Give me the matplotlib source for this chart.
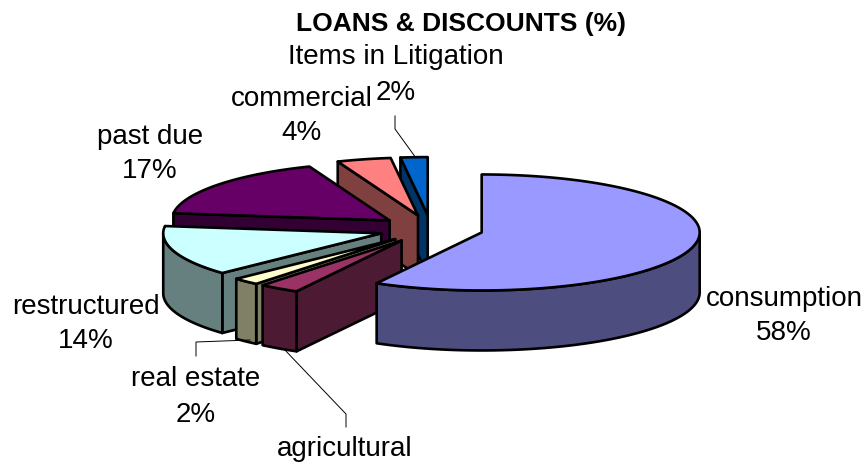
import matplotlib
matplotlib.use('Agg')
import matplotlib.pyplot as plt
from matplotlib.patches import Polygon
import numpy as np

plt.rcParams['font.family'] = ['Liberation Sans', 'DejaVu Sans']

title = 'LOANS & DISCOUNTS (%)'
categories = ['consumption', 'agricultural', 'real estate', 'restructured',
              'past due', 'commercial', 'Items in Litigation']
values = [58, 3, 2, 14, 17, 4, 2]
top_colors = ['#9999FF', '#993366', '#FFFFCC', '#CCFFFF', '#660066', '#FF8080', '#0066CC']
side_colors = ['#4D4D80', '#4D1A33', '#808066', '#668080', '#330033', '#804040', '#003366']

# label centre for each slice, pixels
label_pos = [(784, 316), (345, 466), (196, 397), (86, 324), (150, 154), (302, 116), (396, 75)]
leaders = {'Items in Litigation': [(395, 116), (395, 129), (416, 158)],
           'real estate': [(196, 356), (196, 342), (250, 340)],
           'agricultural': [(283, 348), (346, 414), (346, 427)]}

cx, cy = 431, 229
rx, ry = 218, 58
depth = 60
explode = 0.24

fig = plt.figure(figsize=(8.68, 4.63), dpi=100)
ax = fig.add_axes([0, 0, 1, 1])
ax.set_xlim(0, 868)
ax.set_ylim(463, 0)
ax.axis('off')


def rim(apex, deg):
    t = np.radians(deg)
    return apex[0] + rx * np.cos(t), apex[1] - ry * np.sin(t)


def face(points, color, z):
    ax.add_patch(Polygon(points, closed=True, facecolor=color, edgecolor='black',
                         linewidth=1.9, joinstyle='round', zorder=z))


def drop(points):
    return [(x, y + depth) for x, y in points]


# slices run clockwise from 12 o'clock
ends = 90 - np.cumsum(values) * 3.6
starts = np.concatenate([[90], ends[:-1]])
mids = (starts + ends) / 2
apexes = [(cx + explode * rx * np.cos(np.radians(m)),
           cy - explode * ry * np.sin(np.radians(m))) for m in mids]

# painter's order: back slices first, the big slice sits on top of all
order = [i for i in np.argsort([a[1] for a in apexes]) if i != 0] + [0]
for z, i in enumerate(order):
    apex, a0, a1 = apexes[i], starts[i], ends[i]
    z = z * 10 + 2
    # cut faces, only those turned to the viewer
    for deg, sign in ((a0, 1), (a1, -1)):
        normal_y = np.cos(np.radians(deg)) * sign
        if normal_y < -1e-6:
            edge = [apex, rim(apex, deg)]
            face(edge + drop(edge)[::-1], side_colors[i], z)
    # outer wall, the part on the front half
    arc = np.linspace(a0, a1, 200)
    arc = arc[np.sin(np.radians(arc)) < 0]
    if len(arc) > 1:
        edge = [rim(apex, d) for d in arc]
        face(edge + drop(edge)[::-1], side_colors[i], z + 1)
    top = [apex] + [rim(apex, d) for d in np.linspace(a0, a1, 200)]
    face(top, top_colors[i], z + 2)

for i, name in enumerate(categories):
    x, y = label_pos[i]
    # the agricultural percentage falls off the bottom of the picture
    if name == 'agricultural':
        ax.text(x, 449, name, fontsize=20, ha='center', va='center', zorder=200)
    else:
        ax.text(x, y, f'{name}\n{values[i]}%', fontsize=20, ha='center', va='center',
                linespacing=1.45, zorder=200)
    if name in leaders:
        xs, ys = zip(*leaders[name])
        ax.plot(xs, ys, color='black', linewidth=0.7, zorder=1 if name == 'agricultural' else 150)

ax.text(461, 24, title, fontsize=19, fontweight='bold', ha='center', va='center', zorder=200)

fig.savefig('out.png', dpi=100)
